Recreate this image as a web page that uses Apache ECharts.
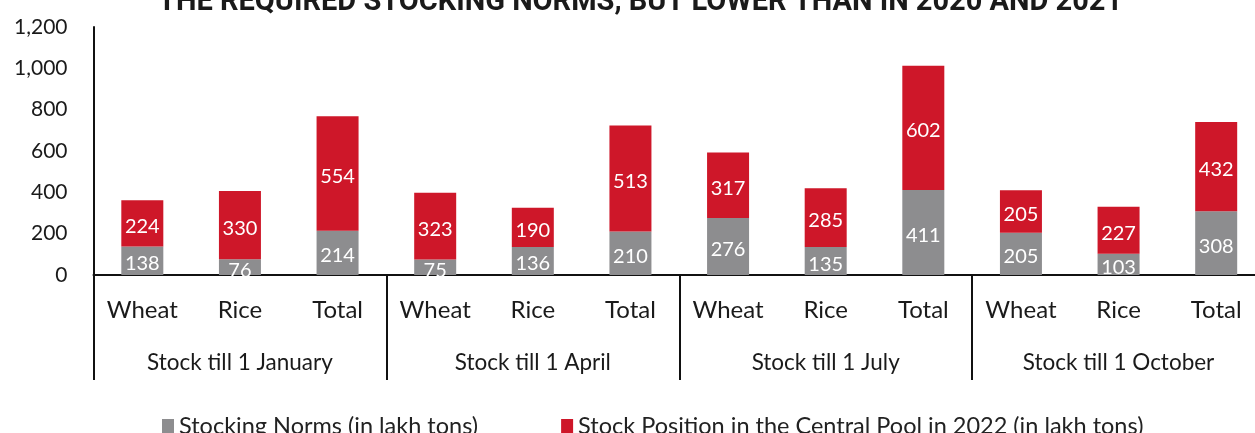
<!DOCTYPE html>
<html>
<head>
<meta charset="utf-8">
<script src="https://cdn.jsdelivr.net/npm/echarts@6/dist/echarts.min.js"></script>
<style>
  html, body { margin: 0; padding: 0; background: #fff; overflow: hidden; }
  #chart { width: 1265px; height: 433px; }
</style>
</head>
<body>
<div id="chart"></div>
<script>
const crops = ['Wheat', 'Rice', 'Total', 'Wheat', 'Rice', 'Total', 'Wheat', 'Rice', 'Total', 'Wheat', 'Rice', 'Total']
const periods = ['Stock till 1 January', 'Stock till 1 April', 'Stock till 1 July', 'Stock till 1 October']
const stockingNorms = [138, 76, 214, 75, 136, 210, 276, 135, 411, 205, 103, 308]
const stockPosition = [224, 330, 554, 323, 190, 513, 317, 285, 602, 205, 227, 432]
const yTicks = [0, 200, 400, 600, 800, 1000, 1200]

const FONT = 'Lato'
const GRAY = '#8d8d8f'
const RED = '#ce1729'

// chart is a bit wider than the window: the last bar group runs off the right edge
const chart = echarts.init(document.getElementById('chart'))

const barLabel = {
    show: true,
    position: 'inside',
    offset: [0, 3],
    color: '#fff',
    fontFamily: FONT,
    fontSize: 20
}

chart.setOption({
    animation: false,
    title: {
        text: 'THE REQUIRED STOCKING NORMS, BUT LOWER THAN IN 2020 AND 2021',
        left: 153,
        top: -17,
        textStyle: {
            fontFamily: 'Roboto',
            fontWeight: 'bold',
            fontSize: 29,
            color: '#1a1a1a'
        }
    },
    legend: {
        left: 157,
        top: 409,
        itemWidth: 12,
        itemHeight: 14,
        itemGap: 83,
        icon: 'rect',
        textStyle: { fontFamily: FONT, fontSize: 23.5, color: '#222' },
        data: ['Stocking Norms (in lakh tons)', 'Stock Position in the Central Pool in 2022 (in lakh tons)']
    },
    grid: {
        left: 93.5,
        top: 27,
        right: 0,
        height: 248
    },
    xAxis: [
        {
            type: 'category',
            data: crops,
            axisLine: { lineStyle: { color: '#111', width: 2 } },
            axisTick: { show: false },
            axisLabel: {
                fontFamily: FONT,
                fontSize: 24,
                color: '#1a1a1a',
                margin: 23,
                interval: 0
            }
        },
        {
            type: 'category',
            position: 'bottom',
            data: periods,
            axisLine: { show: false },
            axisTick: { show: true, length: 105, lineStyle: { color: '#111', width: 2 } },
            axisLabel: {
                fontFamily: FONT,
                fontSize: 22.5,
                color: '#1a1a1a',
                margin: 76,
                interval: 0
            }
        }
    ],
    yAxis: {
        type: 'value',
        min: yTicks[0],
        max: yTicks[yTicks.length - 1],
        interval: 200,
        axisLine: { show: true, lineStyle: { color: '#111', width: 2 } },
        axisTick: { show: false },
        splitLine: { show: false },
        axisLabel: {
            fontFamily: FONT,
            fontSize: 21,
            color: '#1a1a1a',
            margin: 26,
            formatter: v => v.toLocaleString('en-US')
        }
    },
    series: [
        {
            name: 'Stocking Norms (in lakh tons)',
            type: 'bar',
            stack: 'stock',
            barWidth: 42,
            itemStyle: { color: GRAY },
            label: barLabel,
            data: stockingNorms
        },
        {
            name: 'Stock Position in the Central Pool in 2022 (in lakh tons)',
            type: 'bar',
            stack: 'stock',
            barWidth: 42,
            itemStyle: { color: RED },
            label: barLabel,
            data: stockPosition
        }
    ]
})
</script>
</body>
</html>
